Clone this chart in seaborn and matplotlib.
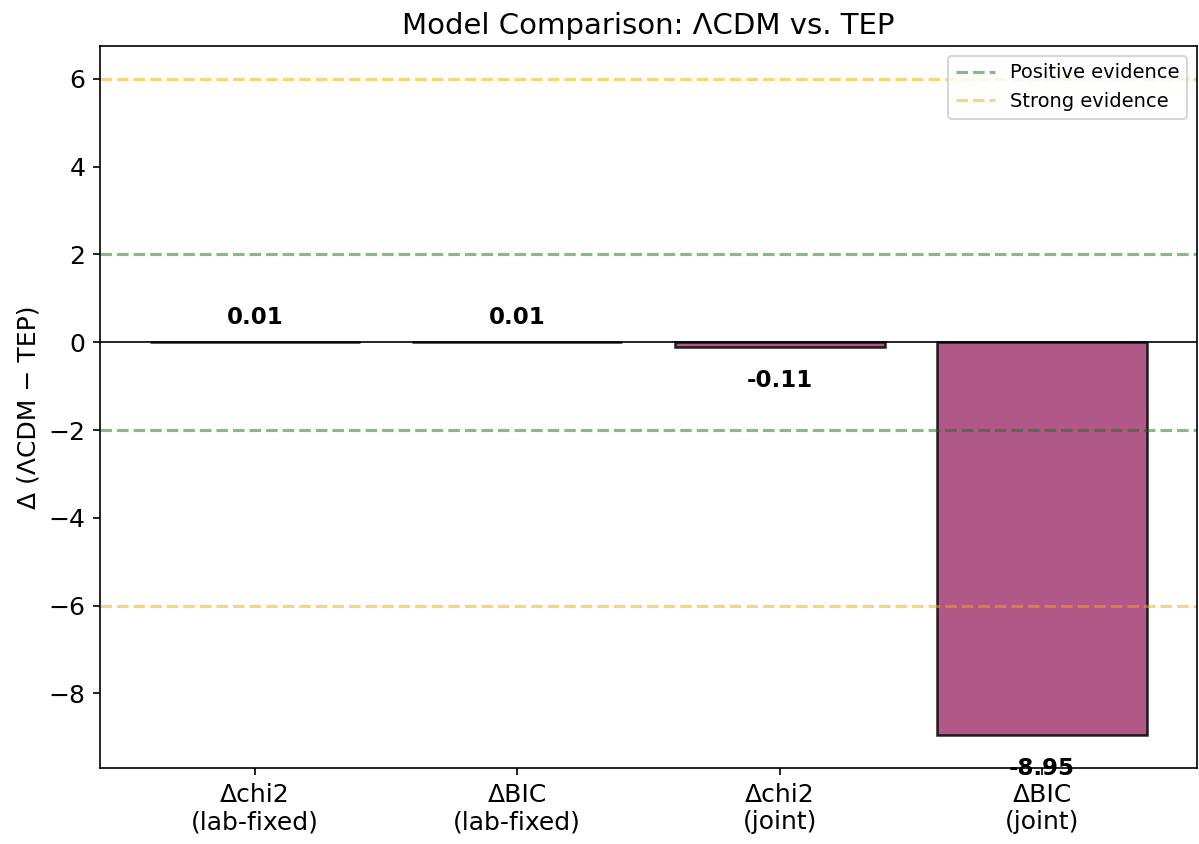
import matplotlib
matplotlib.use("Agg")
import matplotlib.pyplot as plt
import seaborn as sns
import pandas as pd

# Differences in fit statistics between the two models
metrics = ["\u0394chi2\n(lab-fixed)", "\u0394BIC\n(lab-fixed)", "\u0394chi2\n(joint)", "\u0394BIC\n(joint)"]
deltas = [0.01, 0.01, -0.11, -8.95]

# Jeffreys-style evidence thresholds
positive_level = 2
strong_level = 6

pos_color = "#2E86AB"
neg_color = "#A23B72"

df = pd.DataFrame({"metric": metrics, "delta": deltas})
colors = [pos_color if v > 0 else neg_color for v in deltas]

DPI = 150
fig = plt.figure(figsize=(1199 / DPI, 844 / DPI), dpi=DPI)
ax = fig.add_axes([100 / 1199, 1 - 768 / 844, 1097 / 1199, 722 / 844])

sns.barplot(data=df, x="metric", y="delta", hue="metric", palette=colors,
            legend=False, width=0.8, saturation=1, edgecolor="black",
            linewidth=1.2, alpha=0.85, ax=ax)

ax.axhline(0, color="black", linewidth=0.8)
ax.axhline(positive_level, color="green", linestyle="--", alpha=0.5, label="Positive evidence")
ax.axhline(-positive_level, color="green", linestyle="--", alpha=0.5)
ax.axhline(strong_level, color="orange", linestyle="--", alpha=0.5, label="Strong evidence")
ax.axhline(-strong_level, color="orange", linestyle="--", alpha=0.5)

for i, v in enumerate(deltas):
    if v >= 0:
        ax.text(i, v + 0.3, f"{v:.2f}", ha="center", va="bottom",
                fontsize=11, fontweight="bold")
    else:
        ax.text(i, v - 0.5, f"{v:.2f}", ha="center", va="top",
                fontsize=11, fontweight="bold")

ax.set_xlim(-0.59, 3.59)
ax.set_ylim(-9.70, 6.75)
ax.set_xlabel("")
ax.set_ylabel("\u0394 (\u039bCDM \u2212 TEP)", fontsize=12)
ax.set_title("Model Comparison: \u039bCDM vs. TEP", fontsize=14)
ax.tick_params(labelsize=12)
ax.legend(loc="upper right", fontsize=9.3)

fig.savefig("out.png", dpi=DPI)
